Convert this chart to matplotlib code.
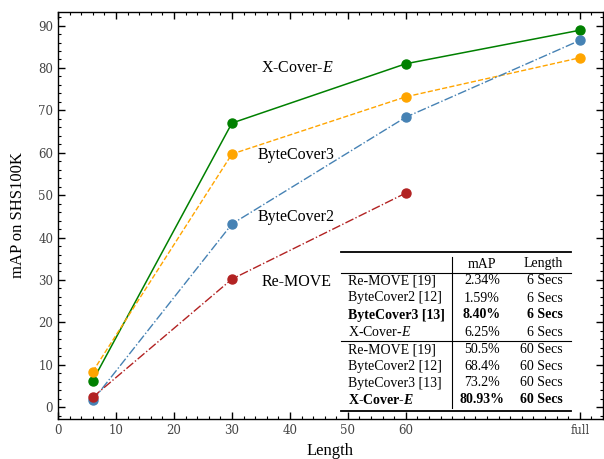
import matplotlib
matplotlib.use("Agg")
import matplotlib.pyplot as plt
from matplotlib.lines import Line2D

# === Data ===
lengths = [6, 30, 60, 90]
xcover = [6.25, 67.0, 81.0, 88.9]
bytecover3 = [8.40, 59.7, 73.2, 82.4]
bytecover2 = [1.59, 43.2, 68.4, 86.5]
remove_len = [6, 30, 60]
remove = [2.34, 30.2, 50.5]

xtick_vals = [0, 10, 20, 30, 40, 50, 60, 90]
xtick_labels = ["0", "10", "20", "30", "40", "50", "60", "full"]
ytick_vals = [0, 10, 20, 30, 40, 50, 60, 70, 80, 90]

# table contents
tab_names = ["Re-MOVE [19]", "ByteCover2 [12]", "ByteCover3 [13]", r"X-Cover-$\it{E}$",
             "Re-MOVE [19]", "ByteCover2 [12]", "ByteCover3 [13]", r"X-Cover-$\it{E}$"]
tab_map = ["2.34%", "1.59%", "8.40%", "6.25%", "50.5%", "68.4%", "73.2%", "80.93%"]
tab_len = ["6 Secs", "6 Secs", "6 Secs", "6 Secs", "60 Secs", "60 Secs", "60 Secs", "60 Secs"]
tab_bold = [False, False, True, False, False, False, False, True]

plt.rcParams["font.family"] = ["Liberation Serif", "DejaVu Serif"]
plt.rcParams["mathtext.fontset"] = "custom"
plt.rcParams["mathtext.rm"] = "Liberation Serif"
plt.rcParams["mathtext.it"] = "Liberation Serif:italic"
plt.rcParams["mathtext.bf"] = "Liberation Serif:bold"
plt.rcParams["mathtext.bfit"] = "Liberation Serif:bold:italic"

W, H = 604, 459
fig = plt.figure(figsize=(W / 100, H / 100), dpi=100)
ax = fig.add_axes([58 / W, (H - 419) / H, (603 - 58) / W, (419 - 12) / H])

ax.plot(lengths, xcover, "-", color="green", lw=1.1, marker="o", ms=6.5)
ax.plot(lengths, bytecover3, "--", color="orange", lw=1.0, marker="o", ms=6.5)
ax.plot(lengths, bytecover2, "-.", color="steelblue", lw=1.0, marker="o", ms=6.5)
ax.plot(remove_len, remove, "-.", color="firebrick", lw=1.0, marker="o", ms=6.5)

ax.text(35, 79, r"X-Cover-$\it{E}$", fontsize=11.5)
ax.text(34.5, 58.5, "ByteCover3", fontsize=11.5)
ax.text(34.5, 44, "ByteCover2", fontsize=11.5)
ax.text(35.2, 28.5, "Re-MOVE", fontsize=11.5)

ax.set_xlim(0, 94)
ax.set_ylim(-2.8, 93.2)
ax.set_xticks(xtick_vals)
ax.set_xticklabels(xtick_labels)
ax.set_yticks(ytick_vals)
ax.xaxis.set_minor_locator(matplotlib.ticker.MultipleLocator(2))
ax.yaxis.set_minor_locator(matplotlib.ticker.MultipleLocator(2))
ax.tick_params(which="both", direction="in", top=True, right=True,
               labelsize=9, labelcolor="#444444")
ax.tick_params(which="major", length=5, width=1)
ax.tick_params(which="minor", length=2.5, width=0.8)
for lbl in ax.get_xticklabels() + ax.get_yticklabels():
    lbl.set_family(["DejaVu Serif"])
    lbl.set_fontsize(8.5)
for s in ax.spines.values():
    s.set_linewidth(1)

ax.set_xlabel("Length", fontsize=12)
ax.set_ylabel("mAP on SHS100K", fontsize=12)
ax.xaxis.set_label_coords(0.5, -0.058)
ax.yaxis.set_label_coords(-0.058, 0.5)

# === Table (pixel positions) ===
def fx(px):
    return px / W

def fy(py):
    return (H - py) / H

fig.add_artist(Line2D([fx(341), fx(571)], [fy(252), fy(252)], color="black", lw=1.3))
fig.add_artist(Line2D([fx(341), fx(571)], [fy(273), fy(273)], color="black", lw=0.8))
fig.add_artist(Line2D([fx(341), fx(571)], [fy(341), fy(341)], color="black", lw=0.8))
fig.add_artist(Line2D([fx(341), fx(571)], [fy(411), fy(411)], color="black", lw=1.3))
fig.add_artist(Line2D([fx(452), fx(452)], [fy(257), fy(408)], color="black", lw=0.8))

fig.text(fx(482), fy(264), "mAP", ha="center", va="center", fontsize=10)
fig.text(fx(563), fy(264), "Length", ha="right", va="center", fontsize=10)
row_y = [281, 298, 315, 332, 349.5, 366.5, 383, 399.5]
for name, m, l, b, y in zip(tab_names, tab_map, tab_len, tab_bold, row_y):
    w = "bold" if b else "normal"
    if b:
        name = name.replace(r"\it{E}", r"\bfit{E}")
    fig.text(fx(348), fy(y), name, ha="left", va="center", fontsize=10, weight=w)
    fig.text(fx(482), fy(y), m, ha="center", va="center", fontsize=10, weight=w)
    fig.text(fx(563), fy(y), l, ha="right", va="center", fontsize=10, weight=w)

fig.savefig("out.png", dpi=100)
